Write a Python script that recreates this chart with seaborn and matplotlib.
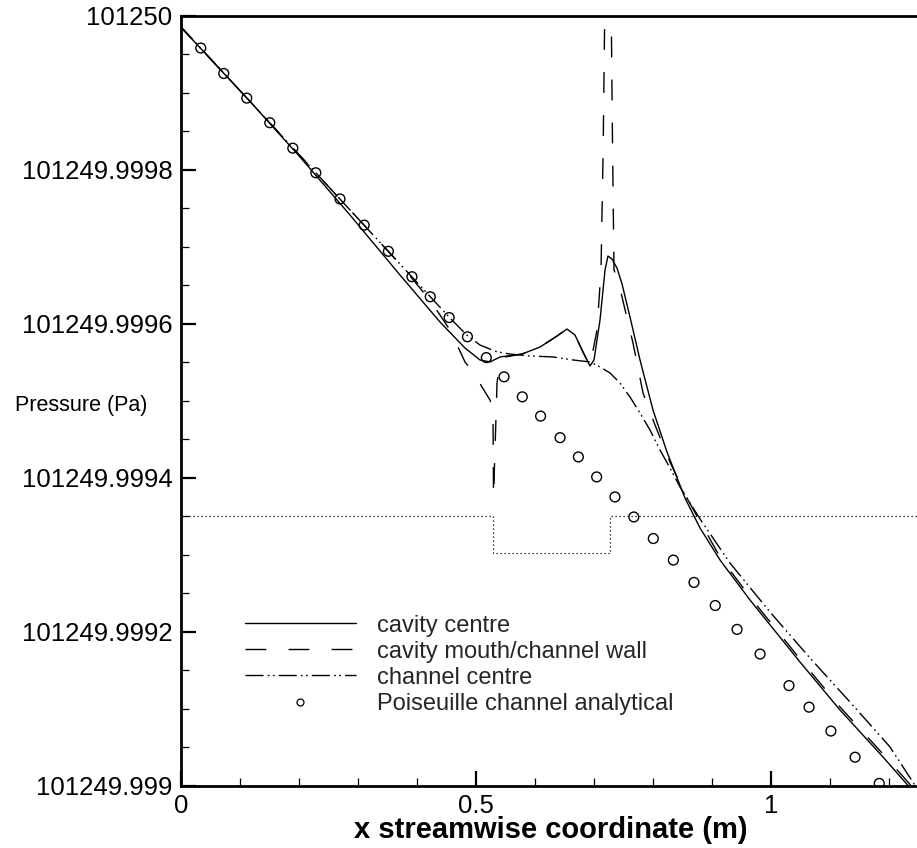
import matplotlib
matplotlib.use("Agg")
import matplotlib.pyplot as plt
from matplotlib.lines import Line2D
from matplotlib.ticker import MultipleLocator, FixedLocator
import seaborn as sns
import numpy as np

# ---------------- data ----------------
cavity_centre_x = [0.0, 0.1175, 0.2022, 0.2869, 0.3717, 0.4395, 0.4819, 0.5073, 0.5242,
                   0.5412, 0.5785, 0.6090, 0.6378, 0.6547, 0.6683, 0.6819, 0.6937, 0.7005,
                   0.7107, 0.7192, 0.7242, 0.7310, 0.7395, 0.7480, 0.7615, 0.7785, 0.8005,
                   0.8242, 0.8547, 0.8802, 0.9141, 0.9649, 1.0497, 1.1175, 1.1903, 1.2395]
cavity_centre_p = [101249.9999853, 101249.9998886, 101249.9998165, 101249.9997412,
                   101249.9996632, 101249.9996022, 101249.9995684, 101249.9995529,
                   101249.9995503, 101249.9995568, 101249.9995606, 101249.9995697,
                   101249.9995840, 101249.9995931, 101249.9995853, 101249.9995632,
                   101249.9995451, 101249.9995529, 101249.9996048, 101249.9996697,
                   101249.9996879, 101249.9996840, 101249.9996723, 101249.9996516,
                   101249.9996087, 101249.9995529, 101249.9994879, 101249.9994334,
                   101249.9993736, 101249.9993347, 101249.9992931, 101249.9992412,
                   101249.9991606, 101249.9990983, 101249.9990373, 101249.9989944]

mouth_x = [0.0, 0.1175, 0.2022, 0.2869, 0.3717, 0.4225, 0.4564, 0.4819, 0.4988, 0.5107,
           0.5242, 0.5293, 0.5302, 0.5327, 0.5353, 0.5361, 0.5412, 0.5497, 0.5785, 0.6090,
           0.6378, 0.6547, 0.6683, 0.6819, 0.6937, 0.7056, 0.7124, 0.7160, 0.7190, 0.7200,
           0.7285, 0.7295, 0.7320, 0.7344, 0.7412, 0.7480, 0.7666, 0.7836, 0.8039, 0.8293,
           0.8598, 0.9141, 0.9649, 1.0497, 1.1175, 1.1903, 1.2446]
mouth_p = [101249.9999853, 101249.9998886, 101249.9998182, 101249.9997478, 101249.9996775,
           101249.9996308, 101249.9995918, 101249.9995503, 101249.9995334, 101249.9995178,
           101249.9995009, 101249.9994879, 101249.9993749, 101249.9994360, 101249.9995009,
           101249.9995230, 101249.9995503, 101249.9995568, 101249.9995606, 101249.9995697,
           101249.9995840, 101249.9995931, 101249.9995853, 101249.9995632, 101249.9995451,
           101249.9995918, 101249.9996697, 101249.9998256, 101250.0000204, 101250.0000594,
           101250.0000594, 101250.0000204, 101249.9998256, 101249.9996697, 101249.9996568,
           101249.9996347, 101249.9995749, 101249.9995100, 101249.9994684, 101249.9994204,
           101249.9993710, 101249.9992970, 101249.9992451, 101249.9991645, 101249.9991022,
           101249.9990412, 101249.9989944]

channel_x = [0.0, 0.1175, 0.2022, 0.2869, 0.3717, 0.4564, 0.4847, 0.5073, 0.5356, 0.5581,
             0.5920, 0.6310, 0.6649, 0.6937, 0.7107, 0.7276, 0.7446, 0.7615, 0.7785, 0.7954,
             0.8124, 0.8293, 0.8463, 0.8802, 0.9310, 0.9988, 1.0666, 1.1344, 1.2022, 1.2497]
channel_p = [101249.9999861, 101249.9998886, 101249.9998182, 101249.9997478, 101249.9996775,
             101249.9996074, 101249.9995853, 101249.9995723, 101249.9995636, 101249.9995606,
             101249.9995581, 101249.9995568, 101249.9995529, 101249.9995503, 101249.9995438,
             101249.9995360, 101249.9995230, 101249.9995048, 101249.9994840, 101249.9994620,
             101249.9994360, 101249.9994126, 101249.9993879, 101249.9993464, 101249.9992892,
             101249.9992256, 101249.9991658, 101249.9991087, 101249.9990503, 101249.9989944]

analytic_x = [0.034, 0.073, 0.112, 0.151, 0.190, 0.229, 0.270, 0.311, 0.352, 0.392, 0.423,
              0.455, 0.486, 0.518, 0.548, 0.579, 0.610, 0.643, 0.674, 0.705, 0.736, 0.768,
              0.801, 0.835, 0.870, 0.906, 0.943, 0.982, 1.031, 1.065, 1.102, 1.143, 1.184]
analytic_p = [101249.999958, 101249.999925, 101249.999893, 101249.999861, 101249.999828,
              101249.999796, 101249.999762, 101249.999728, 101249.999694, 101249.999661,
              101249.999635, 101249.999608, 101249.999583, 101249.999556, 101249.999531,
              101249.999505, 101249.999480, 101249.999452, 101249.999427, 101249.999401,
              101249.999375, 101249.999349, 101249.999321, 101249.999293, 101249.999264,
              101249.999234, 101249.999203, 101249.999171, 101249.999130, 101249.999102,
              101249.999071, 101249.999037, 101249.999003]

geometry_x = [0.0, 0.529, 0.529, 0.728, 0.728, 1.26]
geometry_p = [101249.9993506, 101249.9993506, 101249.9993022, 101249.9993022,
              101249.9993506, 101249.9993506]

ytick_values = [101249.999, 101249.9992, 101249.9994, 101249.9996, 101249.9998, 101250.0]
ytick_labels = ["101249.999", "101249.9992", "101249.9994", "101249.9996", "101249.9998", "101250"]
xtick_values = [0.0, 0.5, 1.0]
xtick_labels = ["0", "0.5", "1"]

labels = ["cavity centre", "cavity mouth/channel wall", "channel centre",
          "Poiseuille channel analytical"]

# ---------------- style ----------------
sns.set_theme(style="white")
plt.rcParams["font.family"] = ["Liberation Sans", "DejaVu Sans"]

W, H = 917, 848
fig = plt.figure(figsize=(W / 100, H / 100), dpi=100)
left_px, right_px, top_px, bottom_px = 180.7, 918.2, 15.7, 785.7
ax = fig.add_axes([left_px / W, 1 - bottom_px / H, (right_px - left_px) / W,
                   (bottom_px - top_px) / H])

dash_pat = (0, (15, 16))
dashdot_pat = (0, (13, 3, 1.2, 2.5, 1.2, 3))

sns.lineplot(x=geometry_x, y=geometry_p, ax=ax, sort=False, estimator=None,
             color="black", linewidth=0.9)
ax.lines[-1].set_linestyle((0, (1, 2.2)))
sns.lineplot(x=channel_x, y=channel_p, ax=ax, sort=False, estimator=None,
             color="black", linewidth=1.0)
ax.lines[-1].set_linestyle(dashdot_pat)
sns.lineplot(x=mouth_x, y=mouth_p, ax=ax, sort=False, estimator=None,
             color="black", linewidth=1.0)
ax.lines[-1].set_linestyle((4, (15, 16)))
sns.lineplot(x=cavity_centre_x, y=cavity_centre_p, ax=ax, sort=False, estimator=None,
             color="black", linewidth=1.0)
sns.scatterplot(x=analytic_x, y=analytic_p, ax=ax, marker="o", s=50,
                color="black", linewidth=1.0, zorder=5)
ax.collections[-1].set_facecolor("none")
ax.collections[-1].set_edgecolor("black")

ax.set_xlim(0, 1.25)
ax.set_ylim(101249.999, 101250.0)
ax.yaxis.set_major_locator(FixedLocator(ytick_values))
ax.set_yticklabels(ytick_labels)
ax.xaxis.set_major_locator(FixedLocator(xtick_values))
ax.set_xticklabels(xtick_labels)
ax.xaxis.set_minor_locator(MultipleLocator(0.1))
ax.yaxis.set_minor_locator(FixedLocator([101249.999 + i * 0.00005 for i in range(21)]))

ax.tick_params(which="major", direction="in", length=11, width=1.6, color="black",
               labelsize=18.5, pad=6, labelcolor="black")
ax.tick_params(which="minor", direction="in", length=6, width=0.9, color="black")
ax.tick_params(axis="x", which="both", top=False, bottom=True)
ax.tick_params(axis="y", which="both", left=True, right=False)

for side in ["left", "bottom", "top"]:
    ax.spines[side].set_visible(True)
    ax.spines[side].set_color("black")
    ax.spines[side].set_linewidth(2.0)
ax.spines["right"].set_visible(False)
ax.set_xlabel("")
ax.set_ylabel("")

fig.text(15 / W, 1 - 405 / H, "Pressure (Pa)", ha="left", va="center", fontsize=15.5,
         color="black")
fig.text(551 / W, 1 - 830 / H, "x streamwise coordinate (m)", ha="center", va="center",
         fontsize=21, fontweight="bold", color="black")

handles = [
    Line2D([], [], color="black", linewidth=1.0),
    Line2D([], [], color="black", linewidth=1.0, linestyle=dash_pat),
    Line2D([], [], color="black", linewidth=1.0, linestyle=dashdot_pat),
    Line2D([], [], color="black", linestyle="none", marker="o", markersize=5,
           markerfacecolor="none", markeredgewidth=0.9),
]
leg = ax.legend(handles, labels, loc="upper left",
                bbox_to_anchor=(240 / W, 1 - 610 / H), bbox_transform=fig.transFigure,
                frameon=False, fontsize=17, handlelength=4.7, handletextpad=0.9,
                labelspacing=0.17, borderpad=0.2, borderaxespad=0)

fig.savefig("out.png", dpi=100, facecolor="white")
